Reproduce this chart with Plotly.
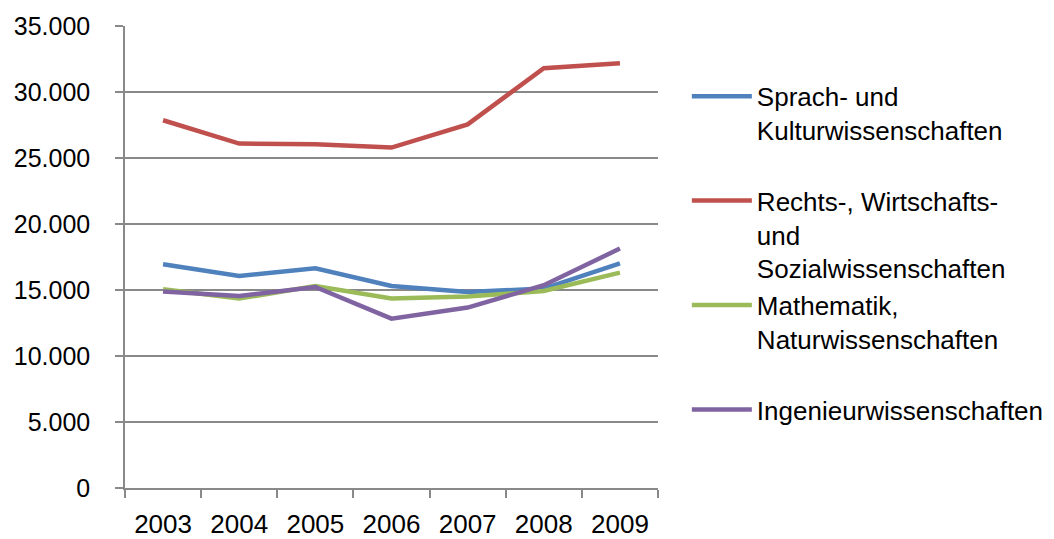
import plotly.graph_objects as go

years = ["2003", "2004", "2005", "2006", "2007", "2008", "2009"]
sprach = [16950, 16060, 16640, 15300, 14850, 15110, 17020]
rechts = [27860, 26090, 26040, 25790, 27550, 31800, 32170]
mathe = [15050, 14350, 15300, 14350, 14500, 14920, 16320]
ingenieur = [14880, 14550, 15230, 12830, 13670, 15360, 18140]

names = [
    "Sprach- und<br>Kulturwissenschaften<br> ",
    "Rechts-, Wirtschafts-<br>und<br>Sozialwissenschaften",
    "Mathematik,<br>Naturwissenschaften<br> ",
    "Ingenieurwissenschaften",
]
colors = ["#4F81BD", "#C0504D", "#9BBB59", "#8064A2"]
series = [sprach, rechts, mathe, ingenieur]

FONT = "Arial, Liberation Sans, sans-serif"
fig = go.Figure()
for n, c, s in zip(names, colors, series):
    fig.add_trace(go.Scatter(x=years, y=s, name=n, mode="lines",
                             line=dict(color=c, width=4.5)))

fig.update_layout(
    width=1046, height=531,
    margin=dict(l=117, r=396, t=18, b=51),
    paper_bgcolor="white", plot_bgcolor="white",
    separators=",.",
    font=dict(family=FONT, size=26, color="black"),
    showlegend=True,
    legend=dict(xref="container", yref="container", x=0.649, y=0.878,
                xanchor="left", yanchor="top", valign="top", maxheight=1,
                itemwidth=60,
                font=dict(family=FONT, size=26, color="black"),
                tracegroupgap=0, bgcolor="rgba(0,0,0,0)"),
    xaxis=dict(type="category", range=[-0.5, 6.5], showgrid=False, showline=True,
               linecolor="#898989", linewidth=1.5, ticks="outside", ticklen=8,
               tickcolor="#898989", tickwidth=1.5, tickson="boundaries",
               ticklabelstandoff=12, automargin=False,
               tickfont=dict(family=FONT, size=26)),
    yaxis=dict(range=[0, 35000], dtick=5000, tickformat=",d", showgrid=True,
               gridcolor="#898989", gridwidth=1.5, showline=True, linecolor="#898989",
               linewidth=1.5, ticks="outside", ticklen=8, tickcolor="#898989",
               tickwidth=1.5, zeroline=False, ticklabelstandoff=20, automargin=False,
               tickfont=dict(family=FONT, size=25)),
)

fig.write_html("out.html")
